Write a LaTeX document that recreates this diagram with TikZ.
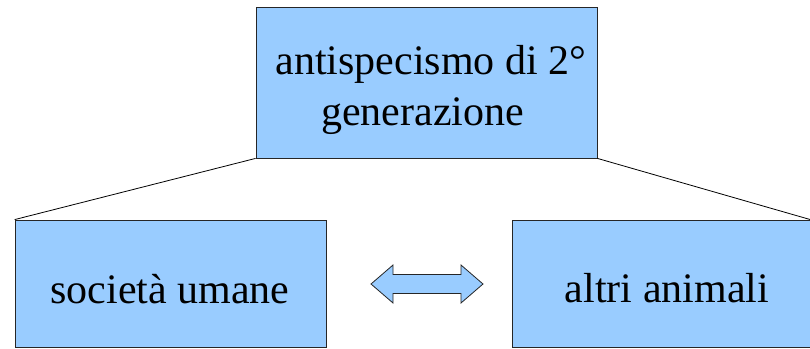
\documentclass[tikz,border=0pt]{standalone}
\usepackage{fontspec}
\setmainfont{Liberation Serif}
\begin{document}
\begin{tikzpicture}[x=1pt,y=-1pt,
  box/.style={draw=black!85,fill=boxblue,line width=0.8pt,rectangle,inner sep=0pt},
  lbl/.style={inner sep=0pt,anchor=base,font=\fontsize{42}{49}\selectfont},
  conn/.style={draw=black,line width=0.8pt}]
\definecolor{boxblue}{HTML}{99CCFF}
\useasboundingbox (0,0) rectangle (810,348);
\node[box,minimum width=341pt,minimum height=151pt] (top) at (426.5,82.5) {};
\node[box,minimum width=311pt,minimum height=127.5pt] (left) at (170.5,283.75) {};
\node[box,minimum width=298pt,minimum height=127.5pt] (right) at (661,283.75) {};
\node[lbl] (t1) at (431,74) {antispecismo di 2°};
\node[lbl] (t2) at (422.5,125) {generazione};
\node[lbl] (l1) at (170,303) {società umane};
\node[lbl] (r1) at (667,302) {altri animali};
\draw[conn] (top.south west) -- (left.north west);
\draw[conn] (top.south east) -- (right.north east);
\draw[draw=black!85,fill=boxblue,line width=0.8pt,line join=miter]
  (371,284) -- (393,265) -- (393,274.5) -- (461,274.5) -- (461,265) -- (483,284)
  -- (461,303) -- (461,293.5) -- (393,293.5) -- (393,303) -- cycle;
\end{tikzpicture}
\end{document}
